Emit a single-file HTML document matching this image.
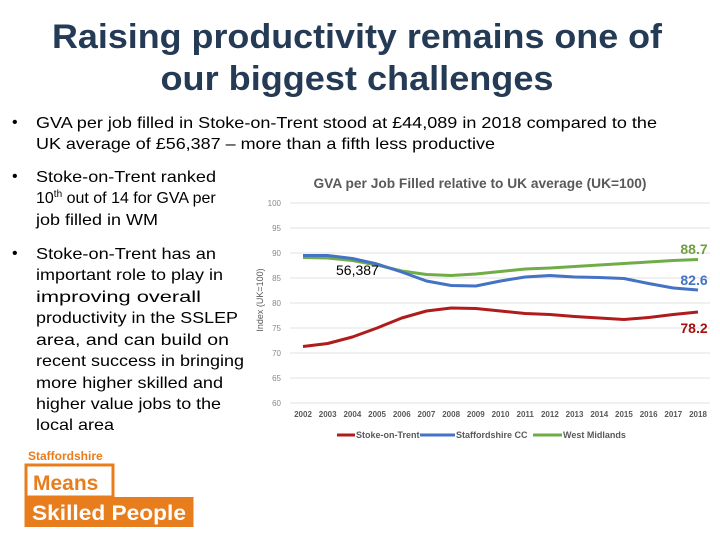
<!DOCTYPE html>
<html><head><meta charset="utf-8"><style>
body{margin:0;background:#fff}
svg{display:block;font-family:"Liberation Sans",Arial,sans-serif}
</style></head><body>
<svg width="720" height="540" viewBox="0 0 720 540">
<g fill="#243a55" font-size="34" font-weight="bold" text-anchor="middle">
<text x="357" y="48" textLength="610" lengthAdjust="spacingAndGlyphs">Raising productivity remains one of</text>
<text x="357" y="90" textLength="393" lengthAdjust="spacingAndGlyphs">our biggest challenges</text>
</g>
<g fill="#000" font-size="16">
<text x="12" y="127">•</text>
<text x="36" y="128" textLength="621" lengthAdjust="spacingAndGlyphs">GVA per job filled in Stoke-on-Trent stood at £44,089 in 2018 compared to the</text>
<text x="36" y="149" textLength="459" lengthAdjust="spacingAndGlyphs">UK average of £56,387 – more than a fifth less productive</text>
<text x="12" y="181">•</text>
<text x="36" y="182" textLength="180" lengthAdjust="spacingAndGlyphs">Stoke-on-Trent ranked</text>
<text x="36" y="203">10<tspan font-size="10" dy="-6">th</tspan><tspan dy="6" font-size="16"> out of 14 for GVA per</tspan></text>
<text x="36" y="225" textLength="122" lengthAdjust="spacingAndGlyphs">job filled in WM</text>
<text x="12" y="258">•</text>
<text x="36" y="259" textLength="180" lengthAdjust="spacingAndGlyphs">Stoke-on-Trent has an</text>
<text x="36" y="280" textLength="187" lengthAdjust="spacingAndGlyphs">important role to play in</text>
<text x="36" y="302" textLength="165" lengthAdjust="spacingAndGlyphs">improving overall</text>
<text x="36" y="323" textLength="202" lengthAdjust="spacingAndGlyphs">productivity in the SSLEP</text>
<text x="36" y="345" textLength="193" lengthAdjust="spacingAndGlyphs">area, and can build on</text>
<text x="36" y="366" textLength="208" lengthAdjust="spacingAndGlyphs">recent success in bringing</text>
<text x="36" y="388" textLength="187" lengthAdjust="spacingAndGlyphs">more higher skilled and</text>
<text x="36" y="409" textLength="185" lengthAdjust="spacingAndGlyphs">higher value jobs to the</text>
<text x="36" y="430" textLength="78" lengthAdjust="spacingAndGlyphs">local area</text>
</g>
<g>
<text x="28" y="460" font-size="12" font-weight="bold" fill="#e87d1e">Staffordshire</text>
<rect x="26" y="465" width="87" height="32" fill="#fff" stroke="#e87d1e" stroke-width="3"/>
<text x="33" y="490" font-size="21" font-weight="bold" fill="#e87d1e">Means</text>
<rect x="24.5" y="497" width="169" height="30" fill="#e87d1e"/>
<text x="32" y="520" font-size="21" font-weight="bold" fill="#fff" textLength="154" lengthAdjust="spacingAndGlyphs">Skilled People</text>
</g>
<text x="480" y="188" font-size="14" font-weight="bold" fill="#595959" text-anchor="middle" textLength="333" lengthAdjust="spacingAndGlyphs">GVA per Job Filled relative to UK average (UK=100)</text>
<text transform="translate(263,300) rotate(-90)" font-size="9" fill="#595959" text-anchor="middle">Index (UK=100)</text>
<g id="grid"></g><g id="yt"></g><g id="xt"></g><g id="lines"></g>
<text x="336" y="275" font-size="14" fill="#000">56,387</text>
<g font-size="14" font-weight="bold" text-anchor="middle">
<text x="694" y="254" fill="#70a045">88.7</text>
<text x="694" y="285" fill="#4472c4">82.6</text>
<text x="694" y="333" fill="#a50f0f">78.2</text>
</g>
<g font-size="9" font-weight="bold" fill="#595959">
<g><line x1="337" y1="435" x2="355" y2="435" stroke="#b01c1c" stroke-width="3"/><text x="356" y="438">Stoke-on-Trent</text></g>
<g><line x1="420" y1="435" x2="455" y2="435" stroke="#4472c4" stroke-width="3"/><text x="456" y="438">Staffordshire CC</text></g>
<g><line x1="533" y1="435" x2="562" y2="435" stroke="#70ad47" stroke-width="3"/><text x="563" y="438">West Midlands</text></g>
</g>
</svg>
<script>
const years=[2002,2003,2004,2005,2006,2007,2008,2009,2010,2011,2012,2013,2014,2015,2016,2017,2018];
const stoke=[71.3,71.9,73.2,75.0,77.0,78.4,79.0,78.9,78.4,77.9,77.7,77.3,77.0,76.7,77.1,77.7,78.2];
const staffs=[89.5,89.5,88.9,87.8,86.2,84.4,83.5,83.4,84.4,85.2,85.5,85.2,85.1,84.9,83.9,83.0,82.6];
const wm=[89.1,89.0,88.5,87.6,86.4,85.7,85.5,85.8,86.3,86.8,87.0,87.3,87.6,87.9,88.2,88.5,88.7];
const yTicks=[60,65,70,75,80,85,90,95,100];
const NS="http://www.w3.org/2000/svg";
function xs(i){return 303+i*(698-303)/(years.length-1);}
function ys(v){return 403-(v-60)*5;}
function mk(t,a,p){const e=document.createElementNS(NS,t);for(const k in a)e.setAttribute(k,a[k]);p.appendChild(e);return e;}
const grid=document.getElementById('grid'),yt=document.getElementById('yt'),xt=document.getElementById('xt'),ln=document.getElementById('lines');
yTicks.forEach(v=>{
 const l=mk('line',{x1:290,x2:710,y1:ys(v),y2:ys(v),stroke:'#e0e0e0','stroke-width':1},grid);
 
 
 const t=mk('text',{x:281,y:ys(v)+3,'font-size':8,fill:'#888','text-anchor':'end'},yt);
 t.textContent=v;
 
 
});
years.forEach((y,i)=>{
 const t=mk('text',{x:xs(i),y:417,'font-size':8,'font-weight':'bold',fill:'#595959','text-anchor':'middle'},xt);
 t.textContent=y;
 
 
});
[[wm,'#70ad47','line-west-midlands'],[staffs,'#4472c4','line-staffordshire'],[stoke,'#b01c1c','line-stoke']].forEach(([d,c,n])=>{
 const p=mk('polyline',{points:d.map((v,i)=>xs(i)+','+ys(v)).join(' '),fill:'none',stroke:c,'stroke-width':3,'stroke-linejoin':'round'},ln);
 
 
});
</script>
</body></html>
